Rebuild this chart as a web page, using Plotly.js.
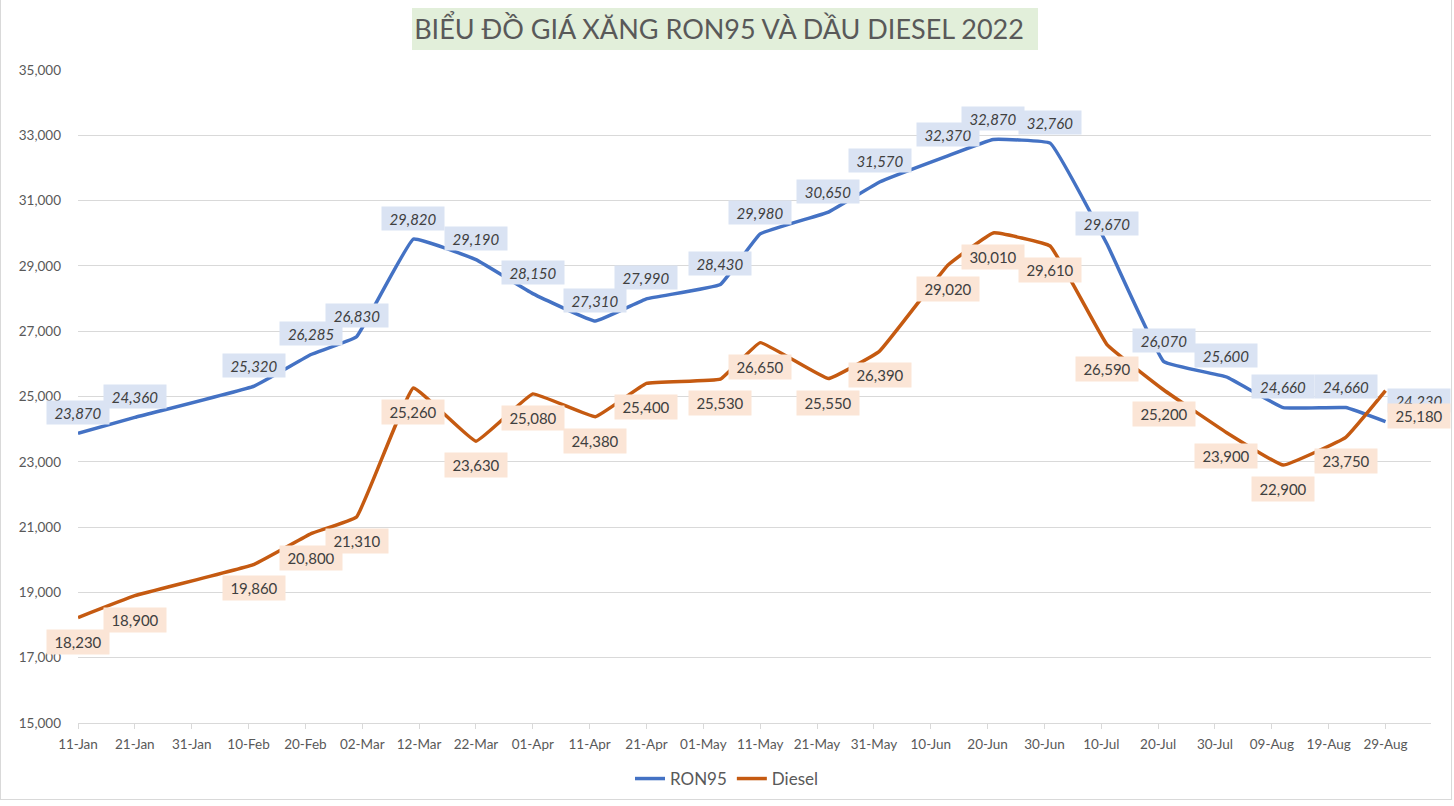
<!DOCTYPE html>
<html>
<head>
<meta charset="utf-8">
<script src="https://cdn.plot.ly/plotly-3.0.1.min.js"></script>
<style>
  html, body { margin: 0; padding: 0; background: #ffffff; }
  #chart { width: 1450px; height: 799px; border-left: 1px solid #d9d9d9; border-right: 1px solid #d9d9d9; border-bottom: 1px solid #d9d9d9; }
</style>
</head>
<body>
<div id="chart"></div>
<script>
const chartTitle = 'BIỂU ĐỒ GIÁ XĂNG RON95 VÀ DẦU DIESEL 2022';
const seriesNames = ['RON95', 'Diesel'];
const dates = ['2022-01-11','2022-01-21','2022-02-11','2022-02-21','2022-03-01','2022-03-11','2022-03-22','2022-04-01','2022-04-12','2022-04-21','2022-05-04','2022-05-11','2022-05-23','2022-06-01','2022-06-13','2022-06-21','2022-07-01','2022-07-11','2022-07-21','2022-08-01','2022-08-11','2022-08-22','2022-08-29'];
const ron95 = [23870,24360,25320,26285,26830,29820,29190,28150,27310,27990,28430,29980,30650,31570,32370,32870,32760,29670,26070,25600,24660,24660,24230];
const diesel = [18230,18900,19860,20800,21310,25260,23630,25080,24380,25400,25530,26650,25550,26390,29020,30010,29610,26590,25200,23900,22900,23750,25180];

const FONT = 'Lato, "Open Sans", sans-serif';
const blue = '#4472C4';
const orange = '#C55A11';
const fmt = v => v.toLocaleString('en-US');

const traces = [
  { x: dates, y: ron95, name: seriesNames[0], type: 'scatter', mode: 'lines',
    line: { color: blue, width: 3.5, shape: 'spline', smoothing: 0.25 }, hoverinfo: 'x+y' },
  { x: dates, y: diesel, name: seriesNames[1], type: 'scatter', mode: 'lines',
    line: { color: orange, width: 3.5, shape: 'spline', smoothing: 0.25 }, hoverinfo: 'x+y' }
];

const annotations = [];
const last = dates.length - 1;
ron95.forEach((v, i) => {
  annotations.push({
    x: dates[i], y: v, xref: 'x', yref: 'y', text: fmt(v), showarrow: false,
    yshift: 21, xshift: i === last ? 33 : 0,
    font: { family: FONT, size: 15, color: '#404040', style: 'italic' },
    bgcolor: '#DAE3F3', width: 60, height: 21, borderpad: 1
  });
});
diesel.forEach((v, i) => {
  annotations.push({
    x: dates[i], y: v, xref: 'x', yref: 'y', text: fmt(v), showarrow: false,
    yshift: i === last ? -25 : -24, xshift: i === last ? 33 : 0,
    font: { family: FONT, size: 15, color: '#404040' },
    bgcolor: '#FBE5D6', width: 60, height: 22, borderpad: 1
  });
});

const layout = {
  width: 1450, height: 799,
  margin: { l: 77, r: 20, t: 70, b: 76 },
  paper_bgcolor: '#ffffff', plot_bgcolor: '#ffffff',
  font: { family: FONT, color: '#595959' },
  title: { text: chartTitle, font: { family: FONT, size: 27, color: '#595959' },
           xref: 'container', x: 718/1450, xanchor: 'center', yref: 'container', y: 1 - 30/799, yanchor: 'middle' },
  showlegend: true,
  legend: { orientation: 'h', xref: 'container', x: 726/1450, xanchor: 'center',
            yref: 'container', y: 1 - 779/799, yanchor: 'middle',
            font: { family: FONT, size: 17, color: '#595959' }, itemwidth: 30, bgcolor: 'rgba(0,0,0,0)' },
  xaxis: {
    type: 'date', range: ['2022-01-11', '2022-09-06'], automargin: false,
    tick0: '2022-01-11', dtick: 864000000, tickformat: '%d-%b',
    showgrid: false, zeroline: false, showline: true, linecolor: '#D9D9D9', linewidth: 1,
    ticks: 'outside', ticklen: 5, tickcolor: '#D9D9D9',
    tickfont: { family: FONT, size: 13.5, color: '#595959' }, ticklabelstandoff: 4
  },
  yaxis: {
    range: [15000, 35000], dtick: 2000, tick0: 15000, tickformat: ',d', automargin: false,
    showgrid: true, gridcolor: '#D9D9D9', gridwidth: 1, zeroline: false, showline: false,
    ticks: '', tickfont: { family: FONT, size: 13.5, color: '#595959' }, ticklabelstandoff: 16
  },
  shapes: [
    { type: 'rect', xref: 'paper', yref: 'paper', layer: 'below',
      x0: (412-78)/1353, x1: (1038-78)/1353, y0: (723-50)/653, y1: (723-8)/653,
      fillcolor: '#E2EFDA', line: { width: 0 } }
  ],
  annotations: annotations
};

Plotly.newPlot('chart', traces, layout, { displayModeBar: false, staticPlot: true });
</script>
</body>
</html>
